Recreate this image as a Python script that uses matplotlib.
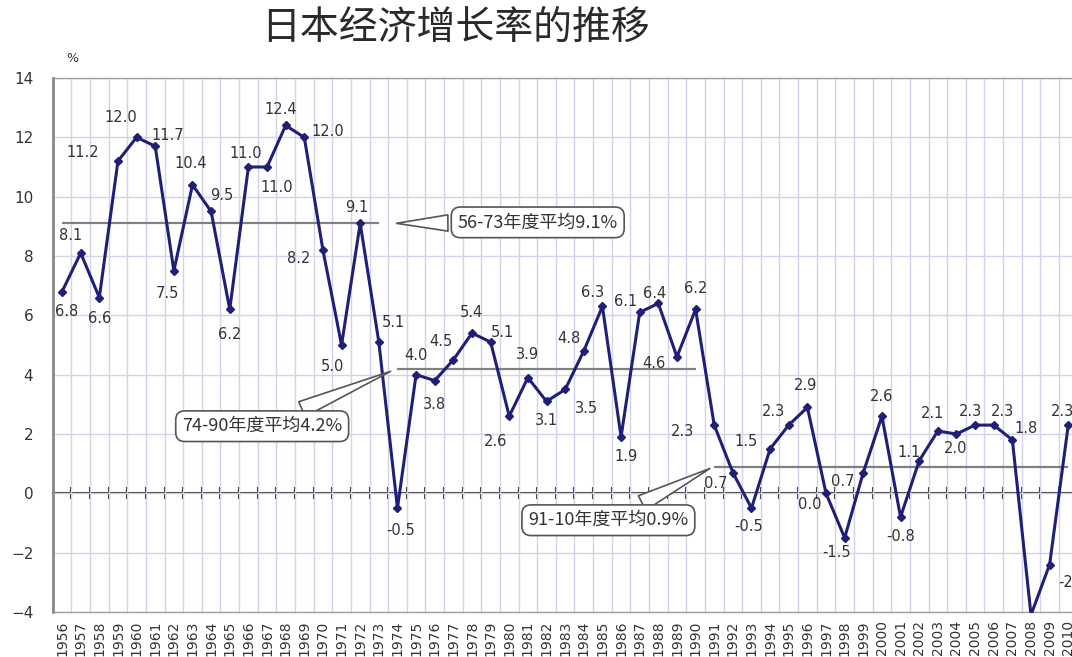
import numpy as np
import matplotlib
matplotlib.use('Agg')
import matplotlib.pyplot as plt

# Japanese real growth rate, 1956-2010 (%)
years = list(range(1956, 2011))
growth = [6.8, 8.1, 6.6, 11.2, 12.0, 11.7, 7.5, 10.4, 9.5, 6.2,
          11.0, 11.0, 12.4, 12.0, 8.2, 5.0, 9.1, 5.1, -0.5, 4.0,
          3.8, 4.5, 5.4, 5.1, 2.6, 3.9, 3.1, 3.5, 4.8, 6.3,
          1.9, 6.1, 6.4, 4.6, 6.2, 2.3, 0.7, -0.5, 1.5, 2.3,
          2.9, 0.0, -1.5, 0.7, 2.6, -0.8, 1.1, 2.1, 2.0, 2.3,
          2.3, 1.8, -4.1, -2.4, 2.3]

# period averages
avg_start = [1956, 1974, 1991]
avg_end = [1973, 1990, 2010]
avg_value = [9.1, 4.2, 0.9]
avg_text = ['56-73年度平均9.1%', '74-90年度平均4.2%', '91-10年度平均0.9%']

# where each value label sits relative to its point (pixels, x right / y up)
label_offsets = [(5, -20), (-10, 18), (0, -21), (-35, 9), (-16, 20), (13, 11), (-6, -23),
                 (-2, 21), (11, 16), (0, -25), (-3, 13), (10, -21), (-5, 16), (24, 6),
                 (-24, -8), (-9, -22), (-3, 16), (15, 20), (3, -22), (0, 19), (0, -24),
                 (-12, 18), (-1, 21), (12, 10), (-14, -25), (0, 23), (0, -19), (21, -19),
                 (-15, 12), (-10, 14), (5, -20), (-14, 11), (-4, 10), (-23, -7), (0, 21),
                 (-32, -6), (-17, -11), (-3, -18), (-24, 7), (-15, 14), (-2, 22), (-16, -11),
                 (-8, -15), (-21, -9), (0, 20), (0, -19), (-10, 8), (-5, 18), (-1, -15),
                 (-5, 14), (9, 14), (14, 11), (-30, 11), (23, -18), (-6, 14)]

# callout tip (index from series start, value) and box offset in pixels
callout_tip = [(17.8, 9.1), (17.77, 4.15), (34.9, 0.88)]
callout_box = [(144, 1), (-131, -56), (-104, -53)]

cjk = ['Noto Sans CJK SC', 'DejaVu Sans']
line_color = '#1f1f78'
grid_color = '#d2d2ea'
text_color = '#333333'

fig = plt.figure(figsize=(10.72, 6.57), dpi=100)
ax = fig.add_axes([0.0492, 0.0685, 0.956, 0.8128])

x = np.arange(len(years))
ymin, ymax = -4, 14
ax.set_xlim(-0.5, len(years) - 0.5)
ax.set_ylim(ymin, ymax)

# grid: vertical lines between the years, horizontal every 2%
ax.set_xticks(x)
ax.set_xticks(x[:-1] + 0.5, minor=True)
ax.set_xticklabels([str(y) for y in years], rotation=90, fontsize=10, color=text_color)
ax.tick_params(axis='x', which='both', length=0, pad=6)
ax.set_yticks(np.arange(ymin, ymax + 1, 2))
ax.tick_params(axis='y', length=0, pad=14, labelsize=11, labelcolor=text_color)
ax.grid(which='minor', axis='x', color=grid_color, lw=1)
ax.grid(which='major', axis='y', color=grid_color, lw=1)
ax.set_axisbelow(True)

for side in ['top', 'bottom']:
    ax.spines[side].set_color('#a0a0a0')
    ax.spines[side].set_linewidth(1)
ax.spines['left'].set_color('#888888')
ax.spines['left'].set_linewidth(2)
ax.spines['right'].set_visible(False)

# category axis crossing at zero with tick marks
zero_pos = (0 - ymin) / (ymax - ymin)
sec = ax.secondary_xaxis(zero_pos)
sec.set_xticks(x[:-1] + 0.5)
sec.tick_params(direction='inout', length=9, width=1.5, color='#222222',
                labelbottom=False, labeltop=False)
for side in ['top', 'bottom']:
    sec.spines[side].set_color('#333333')
    sec.spines[side].set_linewidth(1.5)

# period average lines
for s, e, v in zip(avg_start, avg_end, avg_value):
    ax.hlines(v, years.index(s), years.index(e), color='#808080', lw=1.6, zorder=2)

# growth line
ax.plot(x, growth, color=line_color, lw=2.2, marker='D', ms=4.5,
        mfc=line_color, mec=line_color, zorder=4)

for xi, v, (dx, dy) in zip(x, growth, label_offsets):
    ax.annotate(f'{v:.1f}', (xi, v), xytext=(dx, dy), textcoords='offset pixels',
                ha='center', va='center', fontsize=10.5, color=text_color,
                family='DejaVu Sans', zorder=5)

# callouts
for (tx, ty), (bx, by), txt in zip(callout_tip, callout_box, avg_text):
    ax.annotate(txt, (tx, ty), xytext=(bx, by), textcoords='offset pixels',
                ha='center', va='center', fontsize=13, color=text_color, family=cjk,
                bbox=dict(boxstyle='round,pad=0.35,rounding_size=0.5', fc='white',
                          ec='#555555', lw=1.2),
                arrowprops=dict(arrowstyle='wedge,tail_width=0.9,shrink_factor=0.5',
                                fc='white', ec='#555555', lw=1.2),
                zorder=6)

fig.text(456 / 1072, 1 - 28 / 657, '日本经济增长率的推移', ha='center', va='center',
         fontsize=28, color='#2a2a2a', family=cjk)
fig.text(72 / 1072, 1 - 59 / 657, '%', ha='center', va='center', fontsize=9,
         color=text_color)

fig.savefig('out.png', dpi=100)
